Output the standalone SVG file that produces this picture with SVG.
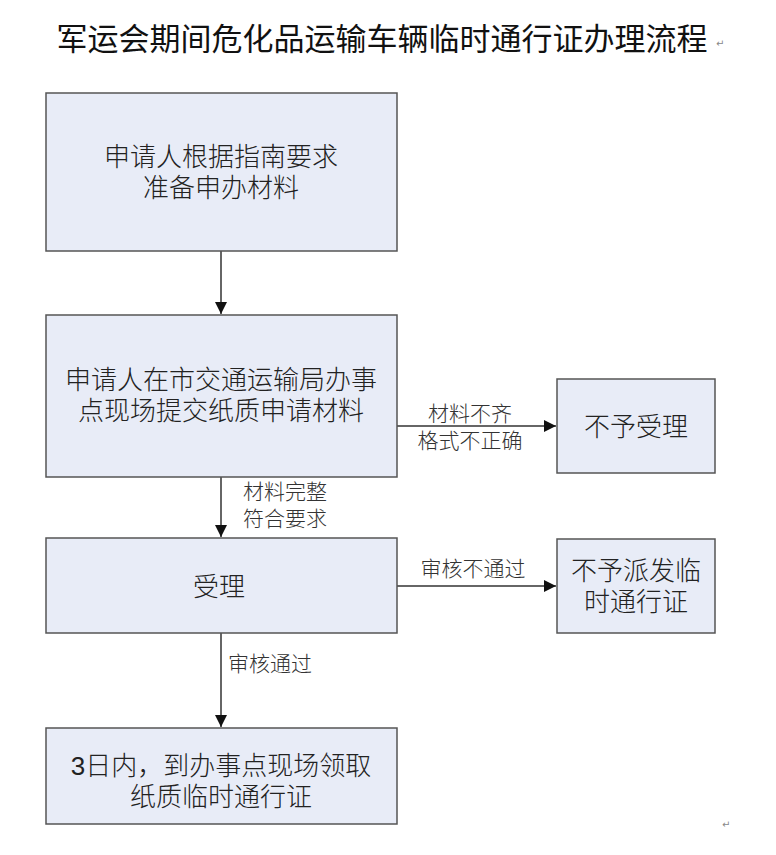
<svg xmlns="http://www.w3.org/2000/svg" width="776" height="855" viewBox="0 0 776 855">
<defs>
<style>
.box{fill:#e8ecf7;stroke:#555;stroke-width:1.5}
.t{font-family:"Liberation Sans","Noto Sans CJK SC",sans-serif;font-weight:300;font-size:26px;fill:#222;text-anchor:middle}
.l{font-family:"Liberation Sans","Noto Sans CJK SC",sans-serif;font-weight:300;font-size:21px;fill:#333}
.c{stroke:#333;stroke-width:1.5;fill:none;marker-end:url(#ah)}
.pm{font-family:"DejaVu Sans",sans-serif;font-size:10px;fill:#888}
</style>
<marker id="ah" markerWidth="12" markerHeight="12" refX="12" refY="6" orient="auto" markerUnits="userSpaceOnUse">
<path d="M0,0 L12,6 L0,12 Z" fill="#111"/>
</marker>
</defs>
<rect width="776" height="855" fill="#fff"/>
<text x="382" y="50" font-family="'Liberation Sans','Noto Sans CJK SC',sans-serif" font-weight="400" font-size="31" fill="#111" text-anchor="middle">军运会期间危化品运输车辆临时通行证办理流程</text>
<text class="pm" x="716" y="47">↵</text>

<g id="connectors">
<line class="c" x1="221" y1="251" x2="221" y2="314"/>
<line class="c" x1="397" y1="426" x2="556" y2="426"/>
<line class="c" x1="221" y1="477" x2="221" y2="537"/>
<line class="c" x1="397" y1="586" x2="556" y2="586"/>
<line class="c" x1="221" y1="633" x2="221" y2="727"/>
<text class="l" x="470" y="421" text-anchor="middle">材料不齐</text>
<text class="l" x="470" y="448" text-anchor="middle">格式不正确</text>
<text class="l" x="243" y="499">材料完整</text>
<text class="l" x="243" y="526">符合要求</text>
<text class="l" x="473" y="576" text-anchor="middle">审核不通过</text>
<text class="l" x="228" y="671">审核通过</text>
</g>

<g id="n1">
<rect class="box" x="46" y="93" width="351" height="158"/>
<text class="t" x="221" y="166">申请人根据指南要求</text>
<text class="t" x="221" y="197">准备申办材料</text>
</g>
<g id="n2">
<rect class="box" x="46" y="315" width="351" height="162"/>
<text class="t" x="221" y="389">申请人在市交通运输局办事</text>
<text class="t" x="221" y="420">点现场提交纸质申请材料</text>
</g>
<g id="n3">
<rect class="box" x="557" y="379" width="158" height="94"/>
<text class="t" x="636" y="436">不予受理</text>
</g>
<g id="n4">
<rect class="box" x="46" y="538" width="351" height="95"/>
<text class="t" x="219" y="596">受理</text>
</g>
<g id="n5">
<rect class="box" x="557" y="539" width="158" height="94"/>
<text class="t" x="636" y="580">不予派发临</text>
<text class="t" x="636" y="611">时通行证</text>
</g>
<g id="n6">
<rect class="box" x="46" y="728" width="351" height="96"/>
<text class="t" x="221" y="775">3日内，到办事点现场领取</text>
<text class="t" x="221" y="806">纸质临时通行证</text>
</g>
<text class="pm" x="722" y="828">↵</text>
</svg>
